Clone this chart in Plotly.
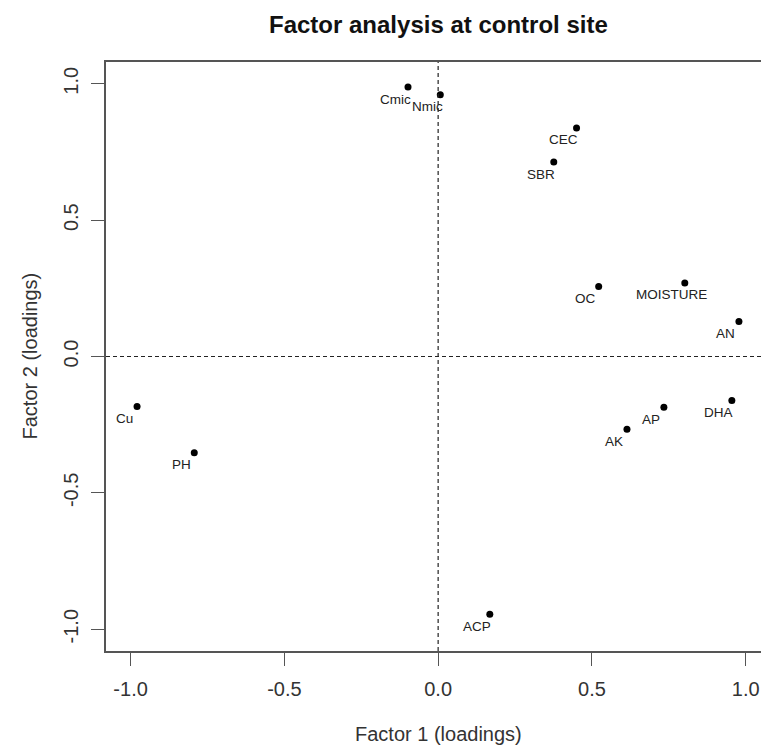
import plotly.graph_objects as go

variables = ["Cmic", "Nmic", "CEC", "SBR", "OC", "MOISTURE", "AN", "DHA", "AP", "AK", "Cu", "PH", "ACP"]
factor1 = [-0.098, 0.007, 0.450, 0.376, 0.522, 0.802, 0.978, 0.955, 0.734, 0.614, -0.979, -0.793, 0.168]
factor2 = [0.988, 0.960, 0.838, 0.713, 0.257, 0.270, 0.128, -0.161, -0.186, -0.267, -0.183, -0.353, -0.945]
tick_vals = [-1.0, -0.5, 0.0, 0.5, 1.0]
tick_text = ["-1.0", "-0.5", "0.0", "0.5", "1.0"]

FONT = "Liberation Sans, Arial, sans-serif"
W, H = 761, 748
ML, MT, MB = 106, 62, 96.5

fig = go.Figure()
fig.add_trace(go.Scatter(
    x=factor1, y=factor2, mode="markers",
    marker=dict(size=7, color="black"),
    hoverinfo="text", text=variables, showlegend=False,
))

for name, fx, fy in zip(variables, factor1, factor2):
    fig.add_annotation(x=fx, y=fy, xref="x", yref="y", text=name, showarrow=False,
                       xanchor="center", yanchor="middle", xshift=-13, yshift=-12,
                       font=dict(family=FONT, size=13.5, color="#222"))

# reference dashed lines
fig.add_shape(type="line", xref="x", yref="paper", x0=0, x1=0, y0=0, y1=1,
              line=dict(color="#222", width=1.2, dash="4px,3px"))
fig.add_shape(type="line", xref="paper", yref="y", x0=0, x1=1, y0=0, y1=0,
              line=dict(color="#222", width=1.2, dash="4px,3px"))

axis_common = dict(
    tickvals=tick_vals, ticktext=tick_text, ticks="outside", ticklen=13, tickwidth=1.3,
    tickcolor="#555", showline=True, linecolor="#555", linewidth=1.5,
    showgrid=False, zeroline=False, tickfont=dict(family=FONT, size=20, color="#333"),
)

fig.update_xaxes(range=[-1.08, 1.0498], mirror=True, ticklabelstandoff=6, **axis_common)
fig.update_yaxes(range=[-1.08, 1.08], mirror=False, tickangle=-90, ticklabelstandoff=5, **axis_common)

# title and axis titles
fig.add_annotation(text="<b>Factor analysis at control site</b>", xref="paper", yref="paper",
                   x=(438.5 - ML) / (W - ML), y=1 + (MT - 24) / (H - MT - MB),
                   xanchor="center", yanchor="middle", showarrow=False,
                   font=dict(family=FONT, size=24, color="#111"))
fig.add_annotation(text="Factor 1 (loadings)", xref="x", yref="paper", x=0,
                   y=-(735 - (H - MB)) / (H - MT - MB), xanchor="center", yanchor="middle",
                   showarrow=False, font=dict(family=FONT, size=20, color="#333"))
fig.add_annotation(text="Factor 2 (loadings)", xref="paper", yref="y",
                   x=(29 - ML) / (W - ML), y=0, textangle=-90, xanchor="center", yanchor="middle",
                   showarrow=False, font=dict(family=FONT, size=20, color="#333"))

fig.update_layout(
    width=W, height=H, margin=dict(l=ML, r=0, t=MT, b=MB, pad=0),
    plot_bgcolor="white", paper_bgcolor="white",
)

fig.write_html("out.html")
